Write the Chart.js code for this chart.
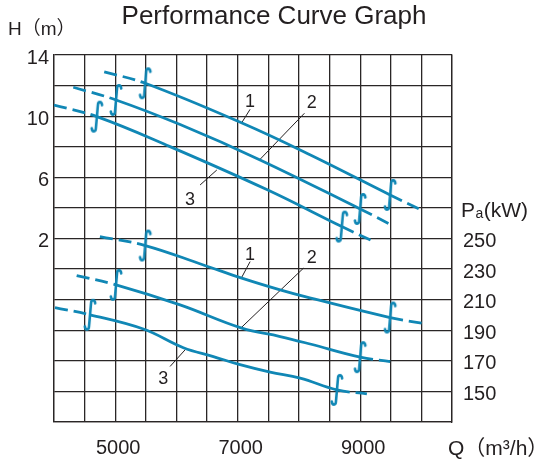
<!DOCTYPE html>
<html>
<head>
<meta charset="utf-8">
<script src="https://cdn.jsdelivr.net/npm/chart.js@4/dist/chart.umd.min.js"></script>
<style>
html,body{margin:0;padding:0;background:#fff;}
#wrap{width:537px;height:463px;}
</style>
</head>
<body>
<div id="wrap"><canvas id="c" width="537" height="463"></canvas></div>
<script>
// ---- Data (Q in m³/h) ----
// Head curves H (m)
const headQ1 = [4820, 5490, 7070, 8180, 9490, 10030];
const headH1 = [12.9, 12.15, 9.55, 7.48, 4.85, 3.8];
const headQ2 = [4315, 5013, 6060, 7366, 9000, 9544];
const headH2 = [11.89, 11.06, 9.45, 7.14, 3.93, 2.82];
const headQ3 = [4000, 4700, 5895, 7475, 8700, 9220];
const headH3 = [10.73, 9.97, 8.01, 5.2, 2.78, 1.8];
// Power curves Pa (kW)
const powQ1 = [4750, 5490, 6440, 7067, 7693, 8100, 9490, 10010];
const powP1 = [251.2, 245.4, 232.7, 224.1, 216.4, 212, 198.3, 194.6];
const powQ2 = [4370, 5013, 6059, 7067, 7693, 8183, 9000, 9490];
const powP2 = [225.7, 219.7, 206.6, 191.4, 185.9, 181.0, 172.4, 169.5];
const powQ3 = [4016, 4588, 5459, 6113, 6603, 7007, 7530, 8020, 8620, 9110];
const powP3 = [204.8, 200.1, 190.8, 178.6, 172.8, 167.8, 162.6, 158.7, 151, 148.4];
// Tick labels shown
const qTickLabels = [5000, 7000, 9000];
const hTickLabels = [14, 10, 6, 2];
const pTickLabels = [250, 230, 210, 190, 170, 150];
// Curve number labels and leader lines (data coordinates)
const curveNames = ['1', '2', '3'];
const headLeaderQ = [[7067, 7203], [7366, 8090], [6659, 6386]];
const headLeaderH = [[9.58, 10.45], [7.18, 10.19], [6.48, 5.5]];
const headLabelQ = [7203, 8211, 6222];
const headLabelH = [10.95, 10.84, 4.52];
const powLeaderQ = [[7067, 7203], [7050, 8074], [6141, 5895]];
const powLeaderP = [[224.7, 234.9], [191.4, 230.6], [177.2, 166.3]];
const powLabelQ = [7203, 8211, 5786];
const powLabelP = [239.3, 237.1, 158.2];

// ---- Styles ----
const BLUE = '#1087b5';
const INK = '#231f20';
const GRID = '#2a2626';
const FONT = "'Liberation Sans', Arial, 'Noto Sans CJK SC', sans-serif";

function pts(xs, ys) { return xs.map((x, i) => ({x: x, y: ys[i]})); }

// integral-sign marker
const mark = document.createElement('canvas');
mark.width = 16; mark.height = 34;
(function(){
  const g = mark.getContext('2d');
  g.strokeStyle = BLUE; g.lineWidth = 2.6; g.lineCap = 'round';
  g.beginPath();
  g.moveTo(13.2, 5.5);
  g.bezierCurveTo(12.8, 1.5, 9.2, 1.2, 9.0, 5.5);
  g.lineTo(7.0, 28.5);
  g.bezierCurveTo(6.8, 32.8, 3.2, 32.5, 2.8, 28.5);
  g.stroke();
})();

function curve(xs, ys, axis) {
  const n = xs.length;
  return {
    type: 'line', data: pts(xs, ys), yAxisID: axis,
    borderColor: BLUE, borderWidth: 2.8, pointRadius: 0,
    tension: 0.4, fill: false,
    segment: {
      borderDash: ctx => (ctx.p0DataIndex === 0 || ctx.p1DataIndex === n - 1) ? [13, 6] : undefined
    }
  };
}
function markers(xs, ys, axis) {
  const n = xs.length;
  return {
    type: 'scatter', yAxisID: axis,
    data: [{x: xs[1], y: ys[1]}, {x: xs[n - 2], y: ys[n - 2]}],
    pointStyle: mark, pointRadius: 10, showLine: false
  };
}
function leader(xs, ys, axis) {
  return {
    type: 'line', yAxisID: axis, data: pts(xs, ys),
    borderColor: INK, borderWidth: 1, pointRadius: 0, tension: 0
  };
}

const datasets = [];
[[headQ1, headH1], [headQ2, headH2], [headQ3, headH3]].forEach(c => {
  datasets.push(curve(c[0], c[1], 'yH'));
  datasets.push(markers(c[0], c[1], 'yH'));
});
[[powQ1, powP1], [powQ2, powP2], [powQ3, powP3]].forEach(c => {
  datasets.push(curve(c[0], c[1], 'yP'));
  datasets.push(markers(c[0], c[1], 'yP'));
});
for (let i = 0; i < 3; i++) {
  datasets.push(leader(headLeaderQ[i], headLeaderH[i], 'yH'));
  datasets.push(leader(powLeaderQ[i], powLeaderP[i], 'yP'));
}

const textPlugin = {
  id: 'texts',
  afterDatasetsDraw(chart) {
    const g = chart.ctx;
    const sx = chart.scales.x, sh = chart.scales.yH, sp = chart.scales.yP;
    g.save();
    g.fillStyle = INK;
    g.textBaseline = 'middle';
    g.textAlign = 'center';
    g.font = '18px ' + FONT;
    for (let i = 0; i < 3; i++) {
      g.fillText(curveNames[i], sx.getPixelForValue(headLabelQ[i]), sh.getPixelForValue(headLabelH[i]));
      g.fillText(curveNames[i], sx.getPixelForValue(powLabelQ[i]), sp.getPixelForValue(powLabelP[i]));
    }
    // title
    g.font = '26px ' + FONT;
    g.fillText('Performance Curve Graph', 274, 17);
    // axis units
    g.textAlign = 'left';
    g.textBaseline = 'alphabetic';
    g.font = '19px ' + FONT;
    g.fillText('H（m）', 8, 35);
    g.font = '21px ' + FONT;
    g.fillText('P', 461, 217);
    let w = g.measureText('P').width;
    g.font = '14px ' + FONT;
    g.fillText('a', 461 + w + 0.5, 217.5);
    let w2 = g.measureText('a').width;
    g.font = '21px ' + FONT;
    g.fillText('(kW)', 461 + w + w2 + 1, 217);
    g.font = '21px ' + FONT;
    g.fillText('Q（m³/h）', 448, 455);
    g.restore();
  }
};

new Chart(document.getElementById('c'), {
  type: 'line',
  data: { datasets: datasets },
  plugins: [textPlugin],
  options: {
    responsive: false, animation: false,
    layout: { padding: { top: 55, left: 0, right: 0, bottom: 0 } },
    plugins: { legend: { display: false }, tooltip: { enabled: false }, title: { display: false } },
    scales: {
      x: {
        type: 'linear', min: 4000, max: 10500,
        ticks: {
          stepSize: 500, autoSkip: false, maxRotation: 0, padding: 14, labelOffset: 3,
          color: INK, font: { family: FONT, size: 20 },
          callback: v => qTickLabels.includes(v) ? String(v) : ''
        },
        grid: { color: GRID, lineWidth: 1.3, drawTicks: false },
        border: { color: GRID, width: 1.3 },
        afterFit: s => { s.height = 41; }
      },
      yH: {
        type: 'linear', position: 'left', min: -10, max: 14,
        ticks: {
          stepSize: 2, autoSkip: false, padding: 5, labelOffset: 3,
          color: INK, font: { family: FONT, size: 20 },
          callback: v => hTickLabels.includes(v) ? String(v) : ''
        },
        grid: { color: GRID, lineWidth: 1.3, drawTicks: false },
        border: { color: GRID, width: 1.3 },
        afterFit: s => { s.width = 54; }
      },
      yP: {
        type: 'linear', position: 'right', min: 130, max: 370,
        ticks: {
          stepSize: 20, autoSkip: false, padding: 11, labelOffset: 3,
          color: INK, font: { family: FONT, size: 20 },
          callback: v => pTickLabels.includes(v) ? String(v) : ''
        },
        grid: { display: false, drawTicks: false },
        border: { color: GRID, width: 1.3 },
        afterFit: s => { s.width = 85; }
      }
    }
  }
});
</script>
</body>
</html>
